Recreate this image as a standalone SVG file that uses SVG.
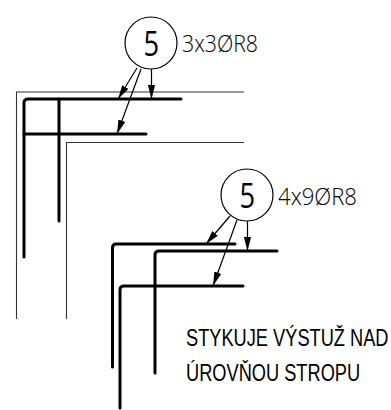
<svg xmlns="http://www.w3.org/2000/svg" width="391" height="410" viewBox="0 0 391 410">
<defs>
<marker id="ah" markerUnits="userSpaceOnUse" markerWidth="16" markerHeight="10" refX="14" refY="5" orient="auto"><path d="M0 1.400L14 5L0 8.600Z" fill="#000"/></marker>
</defs>
<style>
.bg{fill:#fff}
.thin{fill:none;stroke:#333;stroke-width:1.1}
.bar{fill:none;stroke:#000;stroke-width:3;stroke-linecap:round;stroke-linejoin:round}
.lead{fill:none;stroke:#000;stroke-width:1.2;marker-end:url(#ah)}
.ring{fill:#fff;stroke:#000;stroke-width:1.2}
.num{font-family:"Open Sans","Liberation Sans",sans-serif;fill:#000}
.big{font-weight:400}
.lab{font-weight:300}
.note{font-family:"Liberation Sans",Arial,sans-serif;fill:#000}
</style>
<rect class="bg" width="391" height="410"/>
<g id="structure">
<path class="thin" d="M16.500 319V92H244"/>
<path class="thin" d="M66.500 319V142.500H244"/>
</g>
<g id="rebars">
<path class="bar" d="M24 257V103Q24 99 28 99H181"/>
<path class="bar" d="M24 134H146"/>
<path class="bar" d="M59 99V221"/>
<path class="bar" d="M112.500 367V248Q112.500 244 116 244H235"/>
<path class="bar" d="M155 373V255Q155 251 159 251H277"/>
<path class="bar" d="M120 408V290Q120 286 124 286H243"/>
</g>
<g id="connectors">
<path class="lead" d="M137 68L118 99"/>
<path class="lead" d="M141 69L117 134"/>
<path class="lead" d="M151.500 69V99"/>
<path class="lead" d="M230 216L206 244"/>
<path class="lead" d="M237 220L213 286"/>
<path class="lead" d="M247.500 221V251"/>
</g>
<g id="node-1">
<circle class="ring" cx="151" cy="43" r="26"/>
<text class="num big" transform="translate(143.500 56) scale(0.78 1)" font-size="35">5</text>
<text class="num lab" x="182" y="52" font-size="24" textLength="76" lengthAdjust="spacingAndGlyphs">3x3ØR8</text>
</g>
<g id="node-2">
<circle class="ring" cx="247" cy="195" r="26"/>
<text class="num big" transform="translate(239.500 208) scale(0.78 1)" font-size="35">5</text>
<text class="num lab" x="278" y="204.500" font-size="24" textLength="79" lengthAdjust="spacingAndGlyphs">4x9ØR8</text>
</g>
<g id="note">
<text class="note" transform="translate(186 345.500) scale(0.76 1)" font-size="24">STYKUJE VÝSTUŽ NAD</text>
<text class="note" transform="translate(186 380.500) scale(0.76 1)" font-size="24">ÚROVŇOU STROPU</text>
</g>
</svg>
